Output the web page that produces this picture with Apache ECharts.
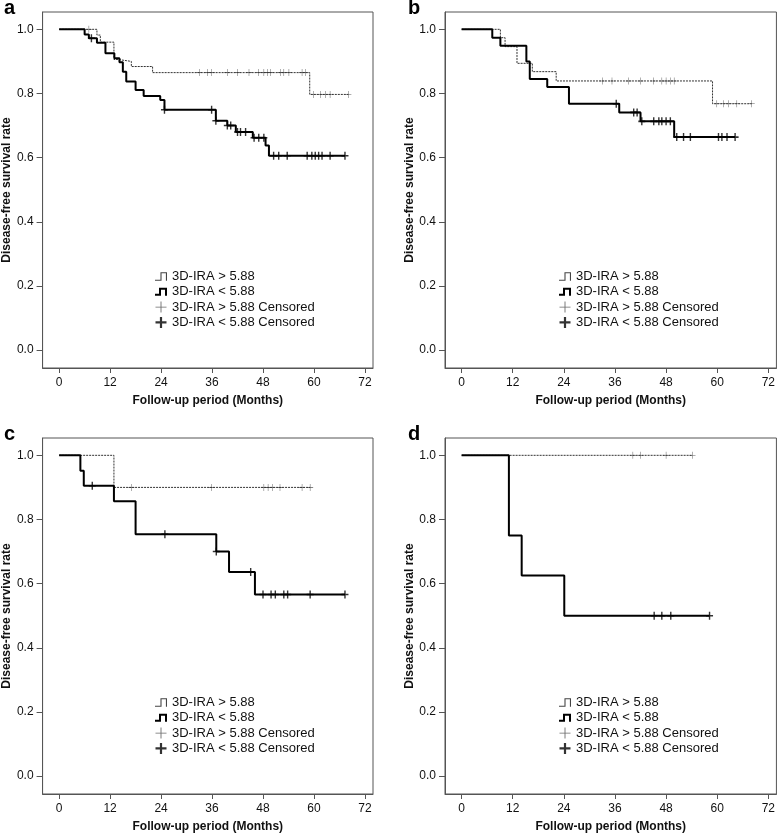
<!DOCTYPE html>
<html>
<head>
<meta charset="utf-8">
<script src="https://cdn.jsdelivr.net/npm/echarts@6/dist/echarts.min.js"></script>
<style>
  html, body { margin: 0; padding: 0; background: #fff; }
  #chart { width: 778px; height: 834px; }
</style>
</head>
<body>
<div id="chart"></div>
<script>
// axis ticks
const monthTicks = [0, 12, 24, 36, 48, 60, 72];
const survTicks = [0, 0.2, 0.4, 0.6, 0.8, 1.0];

// series names
const HI = '3D-IRA > 5.88';
const LO = '3D-IRA < 5.88';
const HI_C = '3D-IRA > 5.88 Censored';
const LO_C = '3D-IRA < 5.88 Censored';

// panel a
const aHiEventT = [8.9, 9.7, 12.9, 13.9, 17.0, 22.0, 59.0];
const aHiEventS = [0.982, 0.960, 0.906, 0.900, 0.884, 0.865, 0.797];
const aHiCensorT = [7.0, 33.0, 34.9, 35.9, 39.6, 42.0, 44.7, 47.0, 48.2, 49.0, 49.8, 52.1, 52.9, 54.1, 57.2, 58.0, 59.9, 61.5, 62.7, 63.8, 68.1];
const aLoEventT = [6.0, 7.0, 8.9, 10.9, 13.0, 14.2, 15.0, 15.8, 18.0, 19.9, 23.8, 24.8, 36.9, 39.6, 41.6, 45.6, 48.6, 49.4];
const aLoEventS = [0.984, 0.972, 0.958, 0.925, 0.910, 0.897, 0.868, 0.837, 0.811, 0.792, 0.780, 0.749, 0.715, 0.700, 0.680, 0.662, 0.638, 0.606];
const aLoCensorT = [7.6, 24.8, 35.9, 36.9, 39.6, 40.4, 42.0, 42.7, 43.9, 45.9, 47.0, 48.2, 50.5, 51.7, 53.7, 58.4, 59.5, 60.3, 61.1, 61.9, 63.8, 67.3];

// panel b
const bHiEventT = [9.1, 10.2, 13.0, 16.6, 22.2, 58.9];
const bHiEventS = [0.974, 0.946, 0.894, 0.868, 0.839, 0.768];
const bHiCensorT = [33.1, 35.3, 39.2, 42.0, 45.1, 47.0, 48.0, 49.0, 49.9, 59.9, 61.5, 62.7, 64.6, 68.1];
const bLoEventT = [7.2, 9.1, 15.2, 16.0, 20.1, 25.2, 37.0, 42.0, 49.9];
const bLoEventS = [0.974, 0.949, 0.900, 0.845, 0.820, 0.768, 0.741, 0.713, 0.664];
const bLoCensorT = [36.3, 40.4, 41.2, 42.3, 45.1, 46.3, 47.0, 48.0, 49.0, 50.5, 52.1, 53.7, 60.3, 61.1, 62.3, 64.2];

// panel c
const cHiEventT = [12.9];
const cHiEventS = [0.900];
const cHiCensorT = [17.0, 35.9, 48.2, 49.2, 50.2, 52.0, 57.2, 59.1];
const cLoEventT = [5.0, 5.8, 12.9, 18.0, 37.0, 40.0, 46.1];
const cLoEventS = [0.952, 0.905, 0.857, 0.754, 0.700, 0.636, 0.566];
const cLoCensorT = [7.8, 24.9, 37.0, 45.1, 48.0, 49.9, 50.9, 52.9, 53.8, 59.1, 67.3];

// panel d
const dHiEventT = [];
const dHiEventS = [];
const dHiCensorT = [40.2, 42.0, 48.0, 54.2];
const dLoEventT = [11.1, 14.1, 24.1];
const dLoEventS = [0.750, 0.625, 0.500];
const dLoCensorT = [45.2, 47.0, 49.1, 58.2];

const panelLetters = ['a', 'b', 'c', 'd'];

const panels = [
  { hi: [aHiEventT, aHiEventS, aHiCensorT], lo: [aLoEventT, aLoEventS, aLoCensorT] },
  { hi: [bHiEventT, bHiEventS, bHiCensorT], lo: [bLoEventT, bLoEventS, bLoCensorT] },
  { hi: [cHiEventT, cHiEventS, cHiCensorT], lo: [cLoEventT, cLoEventS, cLoCensorT] },
  { hi: [dHiEventT, dHiEventS, dHiCensorT], lo: [dLoEventT, dLoEventS, dLoCensorT] }
];

// layout of the 4 boxes
const boxes = [
  { left: 41, top: 12, width: 332, height: 356 },
  { left: 445, top: 12, width: 332, height: 356 },
  { left: 41, top: 438, width: 332, height: 357 },
  { left: 445, top: 438, width: 332, height: 357 }
];

const thinPlus = 'path://M4.6,0H5.4V4.6H10V5.4H5.4V10H4.6V5.4H0V4.6H4.6Z';
const boldPlus = 'path://M4,0H6V4H10V6H6V10H4V6H0V4H4Z';
const thinStep = 'path://M0,7H5V0H11V8H10V1H6V8H0Z';
const boldStep = 'path://M0,6H4V0H12V8H10V2H6V8H0Z';

function stepLine(eventT, eventS, censorT) {
  const pts = [[0, 1]];
  eventT.forEach((t, i) => pts.push([t, eventS[i]]));
  const lastT = Math.max(eventT.length ? eventT[eventT.length - 1] : 0, ...censorT);
  pts.push([lastT, pts[pts.length - 1][1]]);
  return pts;
}

function survAt(t, eventT, eventS) {
  let s = 1;
  eventT.forEach((e, i) => { if (e <= t) s = eventS[i]; });
  return s;
}

const font = 'Liberation Sans, Arial, sans-serif';
const frameColor = '#555';

const grid = [], xAxis = [], yAxis = [], series = [], legend = [], title = [];

panels.forEach((p, i) => {
  const b = boxes[i];
  grid.push(Object.assign({ show: true, borderColor: frameColor, borderWidth: 1, backgroundColor: '#fff' }, b));

  xAxis.push({
    gridIndex: i, type: 'value', min: -3.9, max: 73.9,
    name: 'Follow-up period (Months)', nameLocation: 'middle', nameGap: 27,
    nameTextStyle: { fontFamily: font, fontSize: 12, fontWeight: 'bold', color: '#111' },
    axisLine: { show: true, onZero: false, lineStyle: { color: frameColor } },
    axisTick: { show: true, length: 5, customValues: monthTicks, lineStyle: { color: frameColor } },
    axisLabel: { customValues: monthTicks, margin: 9, fontFamily: font, fontSize: 12, color: '#111' },
    splitLine: { show: false }
  });

  yAxis.push({
    gridIndex: i, type: 'value', min: -0.056, max: 1.054,
    name: 'Disease-free survival rate', nameLocation: 'middle', nameGap: 29,
    nameTextStyle: { fontFamily: font, fontSize: 12, fontWeight: 'bold', color: '#111' },
    axisLine: { show: true, onZero: false, lineStyle: { color: frameColor } },
    axisTick: { show: true, length: 6, customValues: survTicks, lineStyle: { color: frameColor } },
    axisLabel: { customValues: survTicks, margin: 9, fontFamily: font, fontSize: 12, color: '#111',
      formatter: v => v.toFixed(1) },
    splitLine: { show: false }
  });

  const [hT, hS, hC] = p.hi;
  const [lT, lS, lC] = p.lo;

  series.push({
    name: HI, type: 'line', xAxisIndex: i, yAxisIndex: i, step: 'end', symbol: 'none',
    data: stepLine(hT, hS, hC),
    lineStyle: { color: '#333', width: 1, type: [2, 1] }, itemStyle: { color: '#333' }, z: 2
  });
  series.push({
    name: LO, type: 'line', xAxisIndex: i, yAxisIndex: i, step: 'end', symbol: 'none',
    data: stepLine(lT, lS, lC),
    lineStyle: { color: '#000', width: 2 }, itemStyle: { color: '#000' }, z: 3
  });
  series.push({
    name: HI_C, type: 'scatter', xAxisIndex: i, yAxisIndex: i, symbol: thinPlus, symbolSize: [6, 7],
    data: hC.map(t => [t, survAt(t, hT, hS)]),
    itemStyle: { color: '#333' }, z: 4
  });
  series.push({
    name: LO_C, type: 'scatter', xAxisIndex: i, yAxisIndex: i, symbol: boldPlus, symbolSize: [7, 8],
    data: lC.map(t => [t, survAt(t, lT, lS)]),
    itemStyle: { color: '#000' }, z: 5
  });

  legend.push({
    left: b.left + 109, top: b.top + 252, orient: 'vertical',
    itemWidth: 12, itemHeight: 11, itemGap: 0.3, selectedMode: false,
    itemStyle: { borderWidth: 0 },
    textStyle: { fontFamily: font, fontSize: 13, color: '#111', lineHeight: 15 },
    data: [
      { name: HI, icon: thinStep, itemStyle: { color: '#444' } },
      { name: LO, icon: boldStep, itemStyle: { color: '#000' } },
      { name: HI_C, icon: thinPlus, itemStyle: { color: '#444' } },
      { name: LO_C, icon: boldPlus, itemStyle: { color: '#000' } }
    ]
  });

  title.push({
    text: panelLetters[i], left: b.left - 37, top: b.top - 14, padding: 0,
    textStyle: { fontFamily: font, fontSize: 20, fontWeight: 'bold', color: '#000' }
  });
});

const chart = echarts.init(document.getElementById('chart'));
chart.setOption({
  backgroundColor: '#fff',
  animation: false,
  title, grid, xAxis, yAxis, legend, series
});
</script>
</body>
</html>
